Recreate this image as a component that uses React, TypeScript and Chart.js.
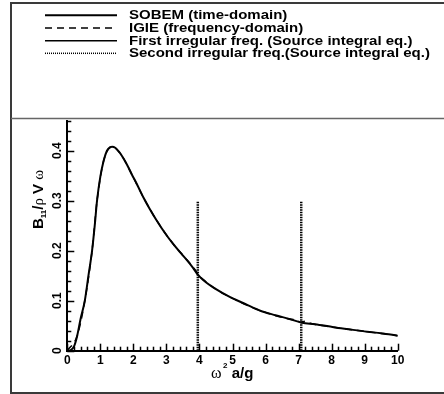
import React, { useEffect, useRef } from "react";
import { Chart, registerables } from "chart.js";

Chart.register(...registerables);

// ---------- data ----------
const sobemX = [0, 0.1, 0.2, 0.3, 0.4, 0.53, 0.64, 0.75, 0.83, 0.9, 1.0, 1.1, 1.2, 1.3, 1.36, 1.45, 1.55, 1.65, 1.8, 1.95, 2.1, 2.3, 2.5, 2.71, 2.95, 3.21, 3.45, 3.62, 3.8, 3.95, 4.12, 4.5, 4.93, 5.4, 5.84, 6.3, 6.75, 7.1, 7.5, 8.06, 8.5, 9.07, 9.5, 10];
const sobemY = [0, 0.001, 0.008, 0.03, 0.063, 0.1, 0.15, 0.2, 0.25, 0.3, 0.348, 0.38, 0.4, 0.407, 0.408, 0.406, 0.399, 0.39, 0.373, 0.353, 0.334, 0.307, 0.283, 0.26, 0.236, 0.213, 0.194, 0.181, 0.166, 0.152, 0.141, 0.123, 0.107, 0.093, 0.08, 0.071, 0.063, 0.056, 0.053, 0.047, 0.043, 0.038, 0.035, 0.03];

const igieX = [0, 0.3, 0.53, 0.75, 0.9, 1.1, 1.36, 1.65, 1.95, 2.3, 2.71, 3.21, 3.62, 3.8, 3.9, 4.0, 4.12, 4.5, 4.93, 5.84, 6.75, 6.95, 7.05, 7.2, 7.35, 8.06, 9.07, 10];
const igieY = [0, 0.03, 0.1, 0.2, 0.3, 0.38, 0.408, 0.39, 0.353, 0.307, 0.26, 0.213, 0.182, 0.168, 0.159, 0.149, 0.142, 0.123, 0.107, 0.08, 0.063, 0.061, 0.057, 0.059, 0.055, 0.047, 0.038, 0.03];

const irr1X = [3.95, 3.95];
const irr1Y = [0, 0.3];
const irr2X = [7.08, 7.08];
const irr2Y = [0, 0.3];

const seriesLabels = [
  "SOBEM (time-domain)",
  "IGIE (frequency-domain)",
  "First irregular freq. (Source integral eq.)",
  "Second irregular freq.(Source integral eq.)",
];

const xMin = 0;
const xMax = 10;
const xMajorStep = 1;
const xMinorStep = 0.2;
const yMin = 0;
const yMax = 0.46;
const yMajorStep = 0.1;
const yMinorStep = 0.02;

const zip = (xs: number[], ys: number[]) => xs.map((x, i) => ({ x, y: ys[i] }));

const SANS = '"Liberation Sans", Arial, sans-serif';
const SERIF = '"Liberation Serif", "Times New Roman", serif';

const decorPlugin = {
  id: "decor",
  beforeDraw(chart: any) {
    const ctx = chart.ctx;
    ctx.save();
    ctx.strokeStyle = "#3a3a3a";
    ctx.lineWidth = 2;
    ctx.beginPath();
    ctx.moveTo(450, 3);
    ctx.lineTo(11, 3);
    ctx.lineTo(11, 393);
    ctx.lineTo(450, 393);
    ctx.stroke();
    ctx.strokeStyle = "#666";
    ctx.lineWidth = 1.5;
    ctx.beginPath();
    ctx.moveTo(11, 118.5);
    ctx.lineTo(450, 118.5);
    ctx.stroke();
    ctx.restore();
  },
  afterDraw(chart: any) {
    const ctx = chart.ctx;
    const xs = chart.scales.x;
    const ys = chart.scales.y;
    const area = chart.chartArea;
    ctx.save();
    ctx.strokeStyle = "#000";
    ctx.lineWidth = 1.5;
    // x ticks (inward)
    const nx = Math.round((xMax - xMin) / xMinorStep);
    for (let i = 0; i <= nx; i++) {
      const v = xMin + i * xMinorStep;
      const major = Math.abs(v / xMajorStep - Math.round(v / xMajorStep)) < 1e-6;
      const px = Math.round(xs.getPixelForValue(v)) + 0.5;
      const len = major ? 7 : 4;
      ctx.beginPath();
      ctx.moveTo(px, area.bottom);
      ctx.lineTo(px, area.bottom - len);
      ctx.stroke();
    }
    const ny = Math.round((yMax - yMin) / yMinorStep);
    for (let i = 0; i <= ny; i++) {
      const v = yMin + i * yMinorStep;
      const major = Math.abs(v / yMajorStep - Math.round(v / yMajorStep)) < 1e-6;
      const py = Math.round(ys.getPixelForValue(v)) + 0.5;
      const len = major ? 7 : 4;
      ctx.beginPath();
      ctx.moveTo(area.left, py);
      ctx.lineTo(area.left + len, py);
      ctx.stroke();
    }

    // x axis title
    ctx.fillStyle = "#000";
    ctx.textBaseline = "alphabetic";
    ctx.textAlign = "left";
    let tx = 211;
    const tb = 378;
    ctx.font = `16px ${SERIF}`;
    ctx.fillText("\u03c9", tx, tb);
    tx += ctx.measureText("\u03c9").width + 1.5;
    ctx.font = `bold 8px ${SANS}`;
    ctx.fillText("2", tx, tb - 10);
    tx += ctx.measureText("2").width;
    ctx.font = `bold 15px ${SANS}`;
    ctx.fillText(" a/g", tx, tb);

    // y axis title (rotated)
    ctx.save();
    ctx.translate(43, 229);
    ctx.rotate(-Math.PI / 2);
    let ty = 0;
    const seg = (t: string, font: string, dy = 0) => {
      ctx.font = font;
      ctx.fillText(t, ty, dy);
      ty += ctx.measureText(t).width;
    };
    seg("B", `bold 15px ${SANS}`);
    seg("11", `bold 8px ${SANS}`, 3);
    seg("/", `bold 15px ${SANS}`);
    seg("\u03c1", `15px ${SERIF}`);
    seg(" V ", `bold 15px ${SANS}`);
    seg("\u03c9", `15px ${SERIF}`);
    ctx.restore();

    // legend
    const rows = [15.3, 28, 40.7, 53.3];
    chart.data.datasets.forEach((ds: any, i: number) => {
      const y = rows[i];
      ctx.save();
      ctx.strokeStyle = ds.borderColor;
      ctx.lineWidth = ds.legendWidth ?? ds.borderWidth;
      ctx.setLineDash(ds.legendDash ?? ds.borderDash ?? []);
      ctx.beginPath();
      ctx.moveTo(45, y);
      ctx.lineTo(117, y);
      ctx.stroke();
      ctx.restore();
      ctx.save();
      ctx.translate(129, y + 0.5);
      ctx.scale(1.2, 1);
      ctx.font = `bold 12.5px ${SANS}`;
      ctx.textBaseline = "middle";
      ctx.fillStyle = "#000";
      ctx.fillText(ds.label, 0, 0);
      ctx.restore();
    });
    ctx.restore();
  },
};

export default function App() {
  const ref = useRef<HTMLCanvasElement | null>(null);

  useEffect(() => {
    if (!ref.current) return;
    const chart = new Chart(ref.current, {
      type: "line",
      data: {
        datasets: [
          {
            label: seriesLabels[0],
            data: zip(sobemX, sobemY),
            borderColor: "#000",
            borderWidth: 2,
            pointRadius: 0,
            cubicInterpolationMode: "monotone",
          } as any,
          {
            label: seriesLabels[1],
            data: zip(igieX, igieY),
            borderColor: "#000",
            borderWidth: 1.5,
            borderDash: [7, 5],
            pointRadius: 0,
            cubicInterpolationMode: "monotone",
          } as any,
          {
            label: seriesLabels[2],
            data: zip(irr1X, irr1Y),
            borderColor: "#000",
            borderWidth: 2.5,
            borderDash: [1.5, 1],
            legendDash: [],
            legendWidth: 1.5,
            pointRadius: 0,
          } as any,
          {
            label: seriesLabels[3],
            data: zip(irr2X, irr2Y),
            borderColor: "#000",
            borderWidth: 2.5,
            borderDash: [1.5, 1],
            legendDash: [1, 1],
            legendWidth: 1.5,
            pointRadius: 0,
          } as any,
        ],
      },
      options: {
        animation: false,
        responsive: false,
        maintainAspectRatio: false,
        parsing: true,
        layout: { padding: { left: 0, top: 120.7, right: 46.3, bottom: 23.3 } },
        plugins: {
          legend: { display: false },
          tooltip: { enabled: false },
          title: { display: false },
        },
        scales: {
          x: {
            type: "linear",
            min: xMin,
            max: xMax,
            grid: { display: false, drawTicks: false },
            border: { display: true, color: "#000", width: 2 },
            afterFit: (s: any) => {
              s.height = 20;
            },
            ticks: {
              stepSize: xMajorStep,
              padding: 3,
              color: "#000",
              maxRotation: 0,
              font: { family: SANS, size: 12, weight: "bold" },
              callback: (v: any) => String(v),
            },
          },
          y: {
            type: "linear",
            min: yMin,
            max: yMax,
            grid: { display: false, drawTicks: false },
            border: { display: true, color: "#000", width: 2 },
            afterFit: (s: any) => {
              s.width = 67.3;
            },
            ticks: {
              stepSize: yMajorStep,
              includeBounds: false,
              padding: 1,
              minRotation: 90,
              maxRotation: 90,
              crossAlign: "center",
              color: "#000",
              font: { family: SANS, size: 12, weight: "bold" },
              callback: (v: any) => String(Math.round(Number(v) * 10) / 10),
            },
          },
        },
      } as any,
      plugins: [decorPlugin],
    });
    return () => chart.destroy();
  }, []);

  return (
    <div style={{ position: "fixed", left: 0, top: 0, width: 444, height: 394, background: "#fff" }}>
      <canvas ref={ref} width={444} height={394} style={{ display: "block", width: 444, height: 394 }} />
    </div>
  );
}
